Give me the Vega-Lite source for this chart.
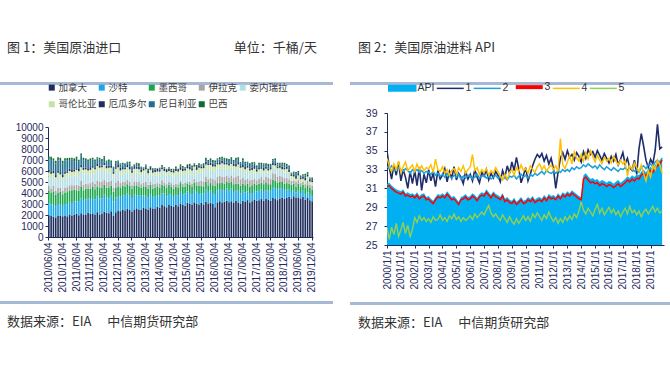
{
"$schema": "https://vega.github.io/schema/vega-lite/v6.json",
"background": "white",
"padding": {"left": 0, "top": 42, "right": 0, "bottom": 0},
"config": {
  "view": {"stroke": null},
  "font": "Liberation Sans",
  "axis": {"labelFont": "Liberation Sans", "labelColor": "#1f2a5c", "domainColor": "#1f2a5c", "tickColor": "#1f2a5c", "grid": false, "labelOverlap": false},
  "title": {"font": "Noto Sans CJK SC", "fontSize": 13, "fontWeight": "normal", "color": "#333333", "anchor": "start"}
},
"resolve": {"scale": {"color": "independent", "strokeWidth": "independent"}, "legend": {"color": "independent"}},
"spacing": 17,
"hconcat": [
{
  "spacing": 36,
  "vconcat": [
    {"spacing": 0, "vconcat": [
      {"width": 333, "height": 0,
       "title": {"text": "图 1：美国原油进口\u3000\u3000\u3000\u3000\u3000\u3000\u3000\u3000\u00a0\u00a0\u00a0单位：千桶/天", "dx": 7, "offset": 7},
       "data": {"values": [{}]}, "mark": "text", "encoding": {"text": {"value": ""}}},
      {"width": 333, "height": 3, "data": {"values": [{}]}, "mark": {"type": "rect", "color": "#a6b9d4"}, "encoding": {}}
    ]},
    {"spacing": 8, "vconcat": [
      {"spacing": 0, "hconcat": [
        {"width": 15, "height": 1, "data": {"values": [{}]}, "mark": "text", "encoding": {"text": {"value": ""}}},
        {"width": 265, "height": 110,
         "data": {"values": [
{"t":"2010/06/04","a":1980,"b":1100,"c":1100,"d":450,"e":900,"f":350,"g":200,"h":1000,"i":250},
{"t":"2010/07/04","a":1900,"b":1050,"c":1050,"d":400,"e":950,"f":400,"g":150,"h":1100,"i":300},
{"t":"2010/08/04","a":1850,"b":1150,"c":1150,"d":500,"e":850,"f":300,"g":250,"h":900,"i":200},
{"t":"2010/09/04","a":1780,"b":1000,"c":1050,"d":350,"e":900,"f":350,"g":200,"h":1050,"i":250},
{"t":"2010/10/04","a":1900,"b":1100,"c":1000,"d":450,"e":1000,"f":400,"g":150,"h":950,"i":300},
{"t":"2010/11/04","a":1950,"b":1050,"c":1100,"d":400,"e":900,"f":300,"g":200,"h":1100,"i":200},
{"t":"2010/12/04","a":1880,"b":950,"c":1050,"d":350,"e":850,"f":350,"g":250,"h":1000,"i":250},
{"t":"2011/01/04","a":1950,"b":1050,"c":1050,"d":400,"e":900,"f":400,"g":200,"h":1000,"i":200},
{"t":"2011/02/04","a":1880,"b":1100,"c":1100,"d":450,"e":950,"f":350,"g":150,"h":950,"i":250},
{"t":"2011/03/04","a":2050,"b":1150,"c":1000,"d":500,"e":850,"f":450,"g":200,"h":800,"i":200},
{"t":"2011/04/04","a":1900,"b":1200,"c":1150,"d":450,"e":800,"f":400,"g":250,"h":900,"i":150},
{"t":"2011/05/04","a":2000,"b":1250,"c":1050,"d":400,"e":900,"f":350,"g":200,"h":750,"i":250},
{"t":"2011/06/04","a":2100,"b":1150,"c":1000,"d":500,"e":950,"f":400,"g":150,"h":850,"i":200},
{"t":"2011/07/04","a":1980,"b":1300,"c":950,"d":450,"e":850,"f":450,"g":200,"h":700,"i":150},
{"t":"2011/08/04","a":2150,"b":1350,"c":1050,"d":550,"e":900,"f":350,"g":250,"h":800,"i":200},
{"t":"2011/09/04","a":2050,"b":1250,"c":950,"d":500,"e":950,"f":400,"g":200,"h":650,"i":250},
{"t":"2011/10/04","a":2000,"b":1400,"c":1000,"d":450,"e":850,"f":450,"g":150,"h":700,"i":150},
{"t":"2011/11/04","a":2200,"b":1300,"c":900,"d":400,"e":900,"f":350,"g":200,"h":600,"i":200},
{"t":"2011/12/04","a":2100,"b":1350,"c":950,"d":500,"e":800,"f":400,"g":250,"h":650,"i":150},
{"t":"2012/01/04","a":2150,"b":1400,"c":1000,"d":450,"e":900,"f":400,"g":150,"h":600,"i":150},
{"t":"2012/02/04","a":2050,"b":1350,"c":950,"d":500,"e":850,"f":450,"g":200,"h":500,"i":200},
{"t":"2012/03/04","a":2250,"b":1450,"c":900,"d":550,"e":950,"f":350,"g":250,"h":450,"i":100},
{"t":"2012/04/04","a":2000,"b":1500,"c":1000,"d":500,"e":900,"f":400,"g":200,"h":550,"i":150},
{"t":"2012/05/04","a":2100,"b":1400,"c":950,"d":600,"e":850,"f":450,"g":150,"h":400,"i":200},
{"t":"2012/06/04","a":2300,"b":1550,"c":900,"d":450,"e":950,"f":400,"g":200,"h":450,"i":150},
{"t":"2012/07/04","a":2200,"b":1450,"c":850,"d":500,"e":900,"f":350,"g":250,"h":350,"i":100},
{"t":"2012/08/04","a":2150,"b":1350,"c":950,"d":550,"e":850,"f":450,"g":200,"h":400,"i":150},
{"t":"2012/09/04","a":2350,"b":1400,"c":900,"d":450,"e":800,"f":400,"g":150,"h":300,"i":200},
{"t":"2012/10/04","a":1950,"b":1300,"c":850,"d":400,"e":900,"f":350,"g":200,"h":350,"i":100},
{"t":"2012/11/04","a":2250,"b":1350,"c":900,"d":450,"e":850,"f":400,"g":150,"h":400,"i":150},
{"t":"2012/12/04","a":2400,"b":1250,"c":950,"d":500,"e":800,"f":450,"g":200,"h":300,"i":100},
{"t":"2013/01/04","a":2350,"b":1300,"c":850,"d":400,"e":750,"f":400,"g":250,"h":300,"i":100},
{"t":"2013/02/04","a":2500,"b":1250,"c":900,"d":350,"e":800,"f":350,"g":200,"h":250,"i":150},
{"t":"2013/03/04","a":2400,"b":1350,"c":800,"d":450,"e":700,"f":450,"g":150,"h":350,"i":50},
{"t":"2013/04/04","a":2550,"b":1400,"c":850,"d":400,"e":750,"f":400,"g":200,"h":200,"i":100},
{"t":"2013/05/04","a":2450,"b":1300,"c":900,"d":350,"e":800,"f":350,"g":250,"h":300,"i":150},
{"t":"2013/06/04","a":2300,"b":1250,"c":850,"d":300,"e":700,"f":450,"g":200,"h":250,"i":100},
{"t":"2013/07/04","a":2500,"b":1350,"c":800,"d":400,"e":750,"f":400,"g":150,"h":200,"i":50},
{"t":"2013/08/04","a":2600,"b":1200,"c":900,"d":350,"e":800,"f":350,"g":200,"h":250,"i":100},
{"t":"2013/09/04","a":2450,"b":1300,"c":850,"d":450,"e":700,"f":400,"g":250,"h":150,"i":150},
{"t":"2013/10/04","a":2500,"b":1250,"c":750,"d":300,"e":750,"f":350,"g":200,"h":200,"i":100},
{"t":"2013/11/04","a":2650,"b":1150,"c":800,"d":350,"e":800,"f":300,"g":150,"h":100,"i":50},
{"t":"2013/12/04","a":2550,"b":1200,"c":850,"d":400,"e":750,"f":400,"g":200,"h":150,"i":100},
{"t":"2014/01/04","a":2500,"b":1100,"c":800,"d":350,"e":750,"f":300,"g":200,"h":100,"i":100},
{"t":"2014/02/04","a":2700,"b":1200,"c":850,"d":300,"e":700,"f":350,"g":250,"h":50,"i":50},
{"t":"2014/03/04","a":2600,"b":1050,"c":750,"d":400,"e":800,"f":250,"g":150,"h":100,"i":150},
{"t":"2014/04/04","a":2550,"b":1150,"c":800,"d":350,"e":750,"f":300,"g":200,"h":50,"i":100},
{"t":"2014/05/04","a":2750,"b":1000,"c":850,"d":300,"e":700,"f":350,"g":250,"h":0,"i":50},
{"t":"2014/06/04","a":2650,"b":1100,"c":750,"d":350,"e":800,"f":300,"g":200,"h":50,"i":100},
{"t":"2014/07/04","a":2900,"b":1050,"c":800,"d":400,"e":750,"f":250,"g":150,"h":100,"i":150},
{"t":"2014/08/04","a":2800,"b":1150,"c":700,"d":300,"e":700,"f":350,"g":200,"h":50,"i":100},
{"t":"2014/09/04","a":2700,"b":1000,"c":750,"d":350,"e":800,"f":300,"g":250,"h":0,"i":50},
{"t":"2014/10/04","a":2950,"b":950,"c":850,"d":250,"e":750,"f":250,"g":200,"h":50,"i":100},
{"t":"2014/11/04","a":2850,"b":1050,"c":700,"d":300,"e":700,"f":300,"g":150,"h":0,"i":150},
{"t":"2014/12/04","a":2750,"b":900,"c":750,"d":350,"e":750,"f":350,"g":200,"h":50,"i":100},
{"t":"2015/01/04","a":2900,"b":950,"c":750,"d":250,"e":800,"f":350,"g":200,"h":50,"i":150},
{"t":"2015/02/04","a":2800,"b":1000,"c":700,"d":300,"e":750,"f":400,"g":150,"h":0,"i":100},
{"t":"2015/03/04","a":3050,"b":1050,"c":800,"d":200,"e":700,"f":300,"g":250,"h":50,"i":200},
{"t":"2015/04/04","a":2950,"b":900,"c":750,"d":250,"e":800,"f":350,"g":200,"h":100,"i":150},
{"t":"2015/05/04","a":2850,"b":1100,"c":650,"d":300,"e":750,"f":400,"g":150,"h":50,"i":100},
{"t":"2015/06/04","a":3100,"b":1050,"c":700,"d":200,"e":850,"f":350,"g":200,"h":0,"i":150},
{"t":"2015/07/04","a":3000,"b":1000,"c":750,"d":250,"e":700,"f":450,"g":250,"h":50,"i":200},
{"t":"2015/08/04","a":2950,"b":950,"c":650,"d":300,"e":800,"f":400,"g":200,"h":100,"i":150},
{"t":"2015/09/04","a":3150,"b":1100,"c":700,"d":350,"e":750,"f":350,"g":150,"h":50,"i":100},
{"t":"2015/10/04","a":3050,"b":1050,"c":600,"d":300,"e":700,"f":400,"g":250,"h":0,"i":200},
{"t":"2015/11/04","a":2900,"b":1000,"c":750,"d":400,"e":800,"f":450,"g":200,"h":50,"i":150},
{"t":"2015/12/04","a":3100,"b":900,"c":650,"d":450,"e":750,"f":400,"g":150,"h":100,"i":100},
{"t":"2016/01/04","a":2950,"b":1000,"c":650,"d":450,"e":750,"f":450,"g":200,"h":100,"i":150},
{"t":"2016/02/04","a":3200,"b":1100,"c":700,"d":500,"e":700,"f":400,"g":250,"h":150,"i":200},
{"t":"2016/03/04","a":3050,"b":1050,"c":600,"d":550,"e":800,"f":500,"g":150,"h":200,"i":100},
{"t":"2016/04/04","a":3100,"b":1150,"c":650,"d":450,"e":750,"f":450,"g":200,"h":250,"i":150},
{"t":"2016/05/04","a":3000,"b":1000,"c":700,"d":600,"e":700,"f":400,"g":250,"h":150,"i":200},
{"t":"2016/06/04","a":2700,"b":1200,"c":750,"d":500,"e":800,"f":450,"g":200,"h":200,"i":150},
{"t":"2016/07/04","a":3150,"b":1100,"c":650,"d":550,"e":750,"f":400,"g":150,"h":300,"i":100},
{"t":"2016/08/04","a":3250,"b":1050,"c":600,"d":650,"e":700,"f":350,"g":200,"h":250,"i":200},
{"t":"2016/09/04","a":3100,"b":1150,"c":700,"d":500,"e":800,"f":450,"g":250,"h":200,"i":150},
{"t":"2016/10/04","a":3200,"b":1000,"c":650,"d":600,"e":750,"f":400,"g":200,"h":300,"i":100},
{"t":"2016/11/04","a":3300,"b":1100,"c":600,"d":550,"e":700,"f":350,"g":150,"h":250,"i":150},
{"t":"2016/12/04","a":3150,"b":1050,"c":700,"d":500,"e":700,"f":400,"g":200,"h":200,"i":200},
{"t":"2017/01/04","a":3250,"b":1150,"c":650,"d":550,"e":700,"f":350,"g":150,"h":300,"i":150},
{"t":"2017/02/04","a":3100,"b":1000,"c":700,"d":600,"e":650,"f":400,"g":200,"h":250,"i":100},
{"t":"2017/03/04","a":3300,"b":950,"c":600,"d":650,"e":600,"f":300,"g":250,"h":350,"i":200},
{"t":"2017/04/04","a":3150,"b":1050,"c":650,"d":700,"e":700,"f":350,"g":200,"h":300,"i":150},
{"t":"2017/05/04","a":3050,"b":900,"c":700,"d":600,"e":650,"f":400,"g":150,"h":250,"i":100},
{"t":"2017/06/04","a":3300,"b":950,"c":600,"d":550,"e":600,"f":350,"g":200,"h":400,"i":200},
{"t":"2017/07/04","a":3200,"b":850,"c":650,"d":500,"e":650,"f":300,"g":250,"h":300,"i":150},
{"t":"2017/08/04","a":3350,"b":800,"c":700,"d":450,"e":600,"f":400,"g":200,"h":250,"i":100},
{"t":"2017/09/04","a":3100,"b":900,"c":600,"d":550,"e":550,"f":350,"g":150,"h":350,"i":150},
{"t":"2017/10/04","a":3250,"b":750,"c":700,"d":500,"e":600,"f":300,"g":200,"h":300,"i":200},
{"t":"2017/11/04","a":3400,"b":800,"c":650,"d":450,"e":550,"f":350,"g":250,"h":250,"i":100},
{"t":"2017/12/04","a":3300,"b":850,"c":600,"d":400,"e":500,"f":300,"g":200,"h":200,"i":150},
{"t":"2018/01/04","a":3350,"b":850,"c":650,"d":450,"e":550,"f":300,"g":200,"h":250,"i":150},
{"t":"2018/02/04","a":3450,"b":900,"c":600,"d":500,"e":500,"f":250,"g":150,"h":200,"i":200},
{"t":"2018/03/04","a":3300,"b":800,"c":700,"d":400,"e":550,"f":300,"g":250,"h":300,"i":100},
{"t":"2018/04/04","a":3500,"b":750,"c":650,"d":550,"e":500,"f":250,"g":200,"h":150,"i":150},
{"t":"2018/05/04","a":3400,"b":850,"c":550,"d":600,"e":450,"f":200,"g":150,"h":250,"i":200},
{"t":"2018/06/04","a":3300,"b":900,"c":600,"d":500,"e":550,"f":300,"g":200,"h":200,"i":100},
{"t":"2018/07/04","a":3550,"b":1000,"c":650,"d":600,"e":500,"f":250,"g":250,"h":150,"i":150},
{"t":"2018/08/04","a":3450,"b":950,"c":700,"d":650,"e":450,"f":300,"g":200,"h":250,"i":200},
{"t":"2018/09/04","a":3350,"b":1000,"c":600,"d":550,"e":500,"f":250,"g":150,"h":200,"i":150},
{"t":"2018/10/04","a":3500,"b":900,"c":650,"d":500,"e":550,"f":200,"g":200,"h":150,"i":100},
{"t":"2018/11/04","a":3600,"b":850,"c":550,"d":450,"e":450,"f":250,"g":250,"h":200,"i":150},
{"t":"2018/12/04","a":3450,"b":800,"c":600,"d":500,"e":500,"f":300,"g":150,"h":250,"i":200},
{"t":"2019/01/04","a":3550,"b":750,"c":600,"d":450,"e":550,"f":300,"g":200,"h":150,"i":100},
{"t":"2019/02/04","a":3650,"b":650,"c":550,"d":400,"e":300,"f":350,"g":250,"h":200,"i":150},
{"t":"2019/03/04","a":3500,"b":600,"c":650,"d":350,"e":50,"f":400,"g":150,"h":100,"i":50},
{"t":"2019/04/04","a":3700,"b":550,"c":600,"d":300,"e":0,"f":350,"g":200,"h":150,"i":100},
{"t":"2019/05/04","a":3550,"b":500,"c":550,"d":400,"e":0,"f":300,"g":250,"h":200,"i":150},
{"t":"2019/06/04","a":3600,"b":600,"c":650,"d":350,"e":0,"f":400,"g":200,"h":100,"i":100},
{"t":"2019/07/04","a":3500,"b":500,"c":600,"d":300,"e":0,"f":350,"g":150,"h":150,"i":50},
{"t":"2019/08/04","a":3650,"b":550,"c":550,"d":250,"e":0,"f":300,"g":200,"h":100,"i":100},
{"t":"2019/09/04","a":3400,"b":450,"c":600,"d":350,"e":0,"f":350,"g":250,"h":200,"i":150},
{"t":"2019/10/04","a":3550,"b":500,"c":650,"d":400,"e":0,"f":400,"g":150,"h":150,"i":100},
{"t":"2019/11/04","a":3350,"b":550,"c":550,"d":300,"e":0,"f":300,"g":200,"h":100,"i":50},
{"t":"2019/12/04","a":3250,"b":450,"c":600,"d":350,"e":0,"f":350,"g":150,"h":150,"i":100}
         ]},
         "transform": [
           {"fold": ["a","b","c","d","e","f","g","h","i"], "as": ["k","v"]},
           {"lookup": "k", "from": {"data": {"values": [
             {"k":"a","n":"加拿大","o":1},{"k":"b","n":"沙特","o":2},{"k":"c","n":"墨西哥","o":3},
             {"k":"d","n":"伊拉克","o":4},{"k":"e","n":"委内瑞拉","o":5},{"k":"f","n":"哥伦比亚","o":6},
             {"k":"g","n":"厄瓜多尔","o":7},{"k":"h","n":"尼日利亚","o":8},{"k":"i","n":"巴西","o":9}]}, "key": "k", "fields": ["n","o"]}}
         ],
         "mark": {"type": "bar"},
         "encoding": {
           "x": {"field": "t", "type": "ordinal", "scale": {"paddingInner": 0.3, "paddingOuter": 0},
                 "axis": {"title": null, "values": ["2010/06/04","2010/12/04","2011/06/04","2011/12/04","2012/06/04","2012/12/04","2013/06/04","2013/12/04","2014/06/04","2014/12/04","2015/06/04","2015/12/04","2016/06/04","2016/12/04","2017/06/04","2017/12/04","2018/06/04","2018/12/04","2019/06/04","2019/12/04"],
                          "labelAngle": 270, "labelFontSize": 10, "tickSize": 3, "labelPadding": 2}},
           "y": {"field": "v", "type": "quantitative", "stack": "zero", "scale": {"domain": [0, 10000]},
                 "axis": {"title": null, "values": [0,1000,2000,3000,4000,5000,6000,7000,8000,9000,10000], "labelFontSize": 10, "tickSize": 3, "labelPadding": 2, "format": "d"}},
           "color": {"field": "n", "type": "nominal",
                     "scale": {"domain": ["加拿大","沙特","墨西哥","伊拉克","委内瑞拉","哥伦比亚","厄瓜多尔","尼日利亚","巴西"],
                               "range": ["#1f2d5c","#1aa7e8","#1aa64a","#a6a6a6","#b4dde6","#c5e3a5","#1f2f5f","#236f8e","#126b34"]},
                     "legend": {"orient": "none", "legendX": 47, "legendY": 20.5, "direction": "horizontal", "columns": 5, "title": null,
                                "symbolType": "square", "symbolSize": 36, "symbolStrokeWidth": 0, "labelFontSize": 9.5,
                                "labelFont": "Noto Sans CJK SC", "labelColor": "#404040", "labelOffset": 2, "columnPadding": -5, "rowPadding": 6}},
           "order": {"field": "o", "type": "quantitative"}
         }
        }
      ]},
      {"width": 333, "height": 3,
       "title": {"text": "数据来源：EIA\u3000\u00a0中信期货研究部", "orient": "bottom", "dx": 7, "offset": 12},
       "data": {"values": [{}]}, "mark": {"type": "rect", "color": "#a6b9d4"}, "encoding": {}}
    ]}
  ]
},
{
  "spacing": 22,
  "vconcat": [
    {"spacing": 0, "vconcat": [
      {"width": 320, "height": 0,
       "title": {"text": "图 2：美国原油进料 API", "dx": 8, "offset": 7},
       "data": {"values": [{}]}, "mark": "text", "encoding": {"text": {"value": ""}}},
      {"width": 320, "height": 3, "data": {"values": [{}]}, "mark": {"type": "rect", "color": "#a6b9d4"}, "encoding": {}}
    ]},
    {"spacing": 13, "vconcat": [
      {"spacing": 0, "hconcat": [
        {"width": 15, "height": 1, "data": {"values": [{}]}, "mark": "text", "encoding": {"text": {"value": ""}}},
        {"width": 277, "height": 132,
         "data": {"values": [
{"t":"2000/01/01","API":31.5,"1":35.0,"2":33.3,"3":31.2,"4":34.2,"5":26.8},
{"t":"2000/03/01","API":31.6,"1":33.2,"2":33.1,"3":31.3,"4":33.4,"5":25.6},
{"t":"2000/05/01","API":31.3,"1":32.0,"2":33.4,"3":31.0,"4":32.8,"5":26.9},
{"t":"2000/07/01","API":31.1,"1":33.5,"2":33.0,"3":30.8,"4":33.6,"5":26.1},
{"t":"2000/09/01","API":30.9,"1":32.4,"2":32.9,"3":30.6,"4":33.0,"5":27.3},
{"t":"2000/11/01","API":30.8,"1":33.8,"2":33.2,"3":30.5,"4":33.9,"5":25.9},
{"t":"2001/01/01","API":30.7,"1":31.8,"2":33.0,"3":30.4,"4":32.7,"5":26.6},
{"t":"2001/03/01","API":30.9,"1":33.0,"2":32.8,"3":30.6,"4":33.3,"5":27.4},
{"t":"2001/05/01","API":30.5,"1":32.2,"2":33.1,"3":30.2,"4":33.8,"5":26.2},
{"t":"2001/07/01","API":30.6,"1":31.0,"2":32.9,"3":30.3,"4":32.9,"5":27.1},
{"t":"2001/09/01","API":30.4,"1":32.8,"2":32.6,"3":30.1,"4":33.2,"5":25.8},
{"t":"2001/11/01","API":30.5,"1":31.5,"2":33.0,"3":30.2,"4":33.5,"5":26.7},
{"t":"2002/01/01","API":30.3,"1":32.9,"2":32.8,"3":30.0,"4":32.8,"5":27.9},
{"t":"2002/03/01","API":30.6,"1":31.3,"2":33.0,"3":30.3,"4":33.6,"5":27.4},
{"t":"2002/05/01","API":30.2,"1":33.2,"2":32.7,"3":29.9,"4":33.0,"5":28.1},
{"t":"2002/07/01","API":30.4,"1":30.8,"2":32.9,"3":30.1,"4":33.4,"5":27.6},
{"t":"2002/09/01","API":30.5,"1":32.5,"2":32.6,"3":30.2,"4":32.9,"5":27.9},
{"t":"2002/11/01","API":30.1,"1":31.6,"2":32.8,"3":29.8,"4":33.2,"5":27.5},
{"t":"2003/01/01","API":30.2,"1":33.0,"2":32.7,"3":29.9,"4":33.1,"5":27.8},
{"t":"2003/03/01","API":29.9,"1":31.8,"2":32.5,"3":29.6,"4":33.5,"5":27.4},
{"t":"2003/05/01","API":29.7,"1":32.6,"2":32.8,"3":29.4,"4":32.7,"5":28.0},
{"t":"2003/07/01","API":30.1,"1":31.2,"2":32.4,"3":29.8,"4":34.1,"5":27.6},
{"t":"2003/09/01","API":30.4,"1":32.9,"2":32.6,"3":30.1,"4":33.0,"5":27.7},
{"t":"2003/11/01","API":30.3,"1":32.0,"2":32.3,"3":30.0,"4":32.8,"5":28.2},
{"t":"2004/01/01","API":30.5,"1":32.4,"2":32.5,"3":30.2,"4":33.3,"5":27.6},
{"t":"2004/03/01","API":30.3,"1":33.1,"2":32.2,"3":30.0,"4":32.6,"5":27.9},
{"t":"2004/05/01","API":30.7,"1":31.7,"2":32.6,"3":30.4,"4":33.0,"5":27.5},
{"t":"2004/07/01","API":30.4,"1":32.8,"2":32.3,"3":30.1,"4":32.4,"5":28.1},
{"t":"2004/09/01","API":30.1,"1":32.1,"2":32.1,"3":29.8,"4":32.9,"5":27.8},
{"t":"2004/11/01","API":30.2,"1":33.3,"2":32.4,"3":29.9,"4":33.1,"5":28.3},
{"t":"2005/01/01","API":29.9,"1":31.9,"2":32.2,"3":29.6,"4":32.5,"5":27.7},
{"t":"2005/03/01","API":29.6,"1":32.6,"2":32.5,"3":29.3,"4":33.2,"5":28.0},
{"t":"2005/05/01","API":30.1,"1":32.2,"2":32.0,"3":29.8,"4":32.8,"5":27.5},
{"t":"2005/07/01","API":30.2,"1":31.5,"2":32.3,"3":29.9,"4":33.4,"5":27.9},
{"t":"2005/09/01","API":30.4,"1":32.8,"2":32.1,"3":30.1,"4":32.6,"5":27.6},
{"t":"2005/11/01","API":30.1,"1":32.0,"2":32.4,"3":29.8,"4":33.0,"5":27.8},
{"t":"2006/01/01","API":30.2,"1":32.5,"2":32.3,"3":29.9,"4":33.3,"5":28.1},
{"t":"2006/03/01","API":30.5,"1":31.8,"2":32.0,"3":30.2,"4":34.6,"5":27.7},
{"t":"2006/05/01","API":30.3,"1":33.0,"2":32.2,"3":30.0,"4":32.9,"5":28.3},
{"t":"2006/07/01","API":30.0,"1":32.2,"2":32.5,"3":29.7,"4":33.2,"5":27.9},
{"t":"2006/09/01","API":30.4,"1":31.6,"2":32.1,"3":30.1,"4":32.5,"5":28.2},
{"t":"2006/11/01","API":30.6,"1":32.7,"2":32.3,"3":30.3,"4":33.0,"5":28.5},
{"t":"2007/01/01","API":30.5,"1":32.3,"2":32.4,"3":30.2,"4":32.7,"5":28.2},
{"t":"2007/03/01","API":30.9,"1":33.0,"2":32.1,"3":30.6,"4":33.1,"5":28.7},
{"t":"2007/05/01","API":30.6,"1":31.9,"2":32.3,"3":30.3,"4":32.4,"5":29.2},
{"t":"2007/07/01","API":30.3,"1":32.6,"2":32.0,"3":30.0,"4":32.9,"5":28.4},
{"t":"2007/09/01","API":30.7,"1":32.1,"2":32.2,"3":30.4,"4":32.6,"5":28.0},
{"t":"2007/11/01","API":30.4,"1":32.8,"2":32.4,"3":30.1,"4":33.2,"5":28.3},
{"t":"2008/01/01","API":30.3,"1":32.4,"2":32.1,"3":30.0,"4":32.8,"5":27.9},
{"t":"2008/03/01","API":30.1,"1":31.7,"2":32.3,"3":29.8,"4":32.3,"5":27.6},
{"t":"2008/05/01","API":30.5,"1":32.9,"2":32.0,"3":30.2,"4":31.9,"5":28.2},
{"t":"2008/07/01","API":29.9,"1":32.2,"2":32.2,"3":29.6,"4":32.5,"5":27.8},
{"t":"2008/09/01","API":30.1,"1":33.4,"2":31.9,"3":29.8,"4":32.0,"5":27.4},
{"t":"2008/11/01","API":29.8,"1":32.6,"2":32.3,"3":29.5,"4":32.7,"5":28.0},
{"t":"2009/01/01","API":29.7,"1":33.8,"2":32.2,"3":29.4,"4":33.0,"5":27.5},
{"t":"2009/03/01","API":30.0,"1":32.9,"2":32.4,"3":29.7,"4":32.4,"5":27.2},
{"t":"2009/05/01","API":29.6,"1":34.3,"2":32.0,"3":29.3,"4":33.2,"5":27.8},
{"t":"2009/07/01","API":29.8,"1":33.1,"2":32.3,"3":29.5,"4":32.8,"5":27.3},
{"t":"2009/09/01","API":30.1,"1":31.6,"2":32.5,"3":29.8,"4":33.5,"5":27.7},
{"t":"2009/11/01","API":29.7,"1":32.4,"2":32.2,"3":29.4,"4":32.9,"5":28.1},
{"t":"2010/01/01","API":29.8,"1":33.2,"2":32.4,"3":29.5,"4":33.1,"5":27.6},
{"t":"2010/03/01","API":30.1,"1":31.8,"2":32.1,"3":29.8,"4":32.6,"5":28.0},
{"t":"2010/05/01","API":29.9,"1":32.5,"2":32.5,"3":29.6,"4":33.4,"5":27.5},
{"t":"2010/07/01","API":30.2,"1":33.4,"2":32.3,"3":29.9,"4":33.0,"5":28.3},
{"t":"2010/09/01","API":29.8,"1":34.1,"2":32.6,"3":29.5,"4":32.7,"5":27.9},
{"t":"2010/11/01","API":30.0,"1":34.6,"2":32.4,"3":29.7,"4":33.3,"5":28.4},
{"t":"2011/01/01","API":30.1,"1":34.3,"2":32.6,"3":29.8,"4":33.6,"5":28.0},
{"t":"2011/03/01","API":29.9,"1":34.7,"2":32.8,"3":29.6,"4":33.0,"5":27.6},
{"t":"2011/05/01","API":30.3,"1":33.9,"2":32.5,"3":30.0,"4":33.4,"5":28.2},
{"t":"2011/07/01","API":30.0,"1":34.5,"2":32.9,"3":29.7,"4":32.8,"5":27.8},
{"t":"2011/09/01","API":30.4,"1":33.6,"2":32.7,"3":30.1,"4":33.2,"5":28.5},
{"t":"2011/11/01","API":30.2,"1":34.2,"2":32.6,"3":29.9,"4":33.5,"5":27.9},
{"t":"2012/01/01","API":30.3,"1":33.1,"2":32.8,"3":30.0,"4":33.0,"5":27.5},
{"t":"2012/03/01","API":30.1,"1":31.0,"2":32.6,"3":29.8,"4":33.4,"5":27.9},
{"t":"2012/05/01","API":30.5,"1":32.7,"2":32.9,"3":30.2,"4":32.8,"5":27.3},
{"t":"2012/07/01","API":30.2,"1":34.2,"2":32.7,"3":29.9,"4":36.3,"5":27.8},
{"t":"2012/09/01","API":30.6,"1":34.8,"2":33.0,"3":30.3,"4":33.5,"5":27.4},
{"t":"2012/11/01","API":30.4,"1":34.1,"2":32.8,"3":30.1,"4":33.1,"5":28.0},
{"t":"2013/01/01","API":30.7,"1":35.0,"2":33.0,"3":30.4,"4":33.8,"5":27.6},
{"t":"2013/03/01","API":30.5,"1":34.3,"2":32.8,"3":30.2,"4":34.5,"5":28.1},
{"t":"2013/05/01","API":30.8,"1":34.6,"2":33.2,"3":30.5,"4":33.6,"5":27.7},
{"t":"2013/07/01","API":30.6,"1":34.0,"2":33.0,"3":30.3,"4":34.9,"5":28.3},
{"t":"2013/09/01","API":30.4,"1":34.8,"2":33.3,"3":30.1,"4":34.2,"5":27.9},
{"t":"2013/11/01","API":30.2,"1":34.4,"2":33.1,"3":29.9,"4":33.9,"5":28.6},
{"t":"2014/01/01","API":30.1,"1":33.8,"2":33.2,"3":29.8,"4":34.6,"5":29.6},
{"t":"2014/03/01","API":32.4,"1":34.9,"2":33.5,"3":32.0,"4":33.9,"5":28.7},
{"t":"2014/05/01","API":32.6,"1":34.2,"2":33.3,"3":32.2,"4":34.8,"5":28.3},
{"t":"2014/07/01","API":32.3,"1":35.1,"2":33.6,"3":31.9,"4":34.1,"5":28.9},
{"t":"2014/09/01","API":32.0,"1":34.6,"2":33.4,"3":31.6,"4":35.0,"5":28.5},
{"t":"2014/11/01","API":32.1,"1":34.9,"2":33.2,"3":31.7,"4":34.4,"5":28.1},
{"t":"2015/01/01","API":31.9,"1":34.3,"2":33.4,"3":31.5,"4":33.8,"5":28.8},
{"t":"2015/03/01","API":32.0,"1":35.0,"2":33.1,"3":31.6,"4":34.5,"5":29.3},
{"t":"2015/05/01","API":31.7,"1":34.5,"2":33.5,"3":31.3,"4":34.0,"5":28.4},
{"t":"2015/07/01","API":31.9,"1":34.0,"2":33.2,"3":31.5,"4":33.6,"5":28.9},
{"t":"2015/09/01","API":31.8,"1":34.7,"2":33.0,"3":31.4,"4":34.3,"5":28.2},
{"t":"2015/11/01","API":31.6,"1":34.2,"2":33.3,"3":31.2,"4":33.9,"5":28.6},
{"t":"2016/01/01","API":31.8,"1":33.7,"2":33.1,"3":31.4,"4":34.2,"5":29.0},
{"t":"2016/03/01","API":31.7,"1":34.4,"2":32.9,"3":31.3,"4":33.7,"5":28.4},
{"t":"2016/05/01","API":31.5,"1":33.9,"2":33.2,"3":31.1,"4":34.4,"5":28.8},
{"t":"2016/07/01","API":31.7,"1":34.6,"2":33.0,"3":31.3,"4":33.9,"5":28.2},
{"t":"2016/09/01","API":31.9,"1":33.5,"2":32.8,"3":31.5,"4":33.5,"5":28.6},
{"t":"2016/11/01","API":31.6,"1":34.1,"2":33.1,"3":31.2,"4":34.0,"5":28.0},
{"t":"2017/01/01","API":31.8,"1":34.8,"2":33.0,"3":31.4,"4":33.6,"5":28.5},
{"t":"2017/03/01","API":32.0,"1":33.6,"2":33.2,"3":31.6,"4":33.9,"5":28.9},
{"t":"2017/05/01","API":32.3,"1":34.2,"2":32.9,"3":31.9,"4":32.3,"5":28.3},
{"t":"2017/07/01","API":32.1,"1":33.2,"2":33.3,"3":31.7,"4":33.4,"5":29.1},
{"t":"2017/09/01","API":32.4,"1":32.9,"2":33.1,"3":32.0,"4":33.0,"5":28.4},
{"t":"2017/11/01","API":32.2,"1":34.0,"2":32.8,"3":31.8,"4":33.7,"5":28.7},
{"t":"2018/01/01","API":32.5,"1":32.5,"2":33.0,"3":32.1,"4":33.2,"5":28.2},
{"t":"2018/03/01","API":32.4,"1":35.2,"2":32.7,"3":32.0,"4":32.8,"5":28.6},
{"t":"2018/05/01","API":32.8,"1":36.8,"2":33.2,"3":32.4,"4":33.5,"5":28.0},
{"t":"2018/07/01","API":33.0,"1":35.5,"2":33.4,"3":32.6,"4":32.6,"5":28.5},
{"t":"2018/09/01","API":32.7,"1":34.0,"2":33.1,"3":32.3,"4":31.8,"5":28.8},
{"t":"2018/11/01","API":33.1,"1":33.2,"2":33.5,"3":32.7,"4":32.9,"5":28.3},
{"t":"2019/01/01","API":33.3,"1":34.1,"2":33.6,"3":32.9,"4":32.2,"5":28.7},
{"t":"2019/03/01","API":33.1,"1":33.6,"2":33.3,"3":32.7,"4":33.4,"5":29.1},
{"t":"2019/05/01","API":33.5,"1":35.0,"2":33.8,"3":33.1,"4":33.0,"5":28.5},
{"t":"2019/07/01","API":33.8,"1":37.8,"2":34.0,"3":33.4,"4":34.0,"5":28.9},
{"t":"2019/09/01","API":34.0,"1":35.2,"2":33.7,"3":33.6,"4":33.5,"5":28.4},
{"t":"2019/11/01","API":34.3,"1":35.4,"2":34.2,"3":34.0,"4":32.6,"5":28.6}
         ]},
         "transform": [{"fold": ["API","1","2","3","4","5"], "as": ["k","v"]}],
         "encoding": {
           "x": {"field": "t", "type": "temporal",
                 "scale": {"domain": [{"year": 2000, "month": 1, "date": 1}, {"year": 2019, "month": 12, "date": 20}]},
                 "axis": {"title": null, "format": "%Y/%-m/%-d", "tickCount": {"interval": "year", "step": 1}, "labelAngle": 270, "labelFontSize": 10, "tickSize": 3, "labelPadding": 2}},
           "y": {"field": "v", "type": "quantitative", "scale": {"domain": [25, 39], "zero": false},
                 "axis": {"title": null, "values": [25,27,29,31,33,35,37,39], "labelFontSize": 10.5, "tickSize": 3, "labelPadding": 7}},
           "color": {"field": "k", "type": "nominal",
                     "scale": {"domain": ["API","1","2","3","4","5"], "range": ["#00b0f0","#1f2d6b","#1e9fe0","#ff0000","#ffc000","#92d050"]},
                     "legend": {"orient": "none", "legendX": 47, "legendY": 19.5, "direction": "horizontal", "title": null,
                                "symbolSize": 729, "labelFontSize": 10.5, "labelFont": "Liberation Sans", "labelColor": "#333333", "labelOffset": 10, "columnPadding": -2,
                                "labelExpr": "datum.label === 'API' ? 'API\u00a0\u00a0\u00a0' : datum.label",
                                "encode": {"symbols": {"update": {
                                  "shape": {"signal": "datum.value === 'API' ? 'M-1,-0.2H1V0.2H-1Z' : 'M-1,0H1'"},
                                  "fill": {"signal": "datum.value === 'API' ? '#00b0f0' : 'transparent'"},
                                  "stroke": {"signal": "datum.value === '1' ? '#1f2d6b' : datum.value === '2' ? '#1e9fe0' : datum.value === '3' ? '#ff0000' : datum.value === '4' ? '#ffc000' : datum.value === '5' ? '#92d050' : 'transparent'"},
                                  "strokeWidth": {"signal": "datum.value === '3' ? 4 : 1.5"}}}}}}
         },
         "layer": [
           {"transform": [{"filter": {"field": "k", "equal": "API"}}], "mark": {"type": "area", "opacity": 1, "clip": true}},
           {"transform": [{"filter": {"field": "k", "oneOf": ["1","2","3","4","5"]}}], "mark": {"type": "line", "clip": true},
            "encoding": {"strokeWidth": {"field": "k", "type": "nominal", "scale": {"domain": ["1","2","3","4","5"], "range": [1.6,1.4,3.5,1.6,1.6]}, "legend": null}}}
         ]
        }
      ]},
      {"width": 320, "height": 3,
       "title": {"text": "数据来源：EIA\u3000\u00a0中信期货研究部", "orient": "bottom", "dx": 8, "offset": 12},
       "data": {"values": [{}]}, "mark": {"type": "rect", "color": "#a6b9d4"}, "encoding": {}}
    ]}
  ]
}
]
}
